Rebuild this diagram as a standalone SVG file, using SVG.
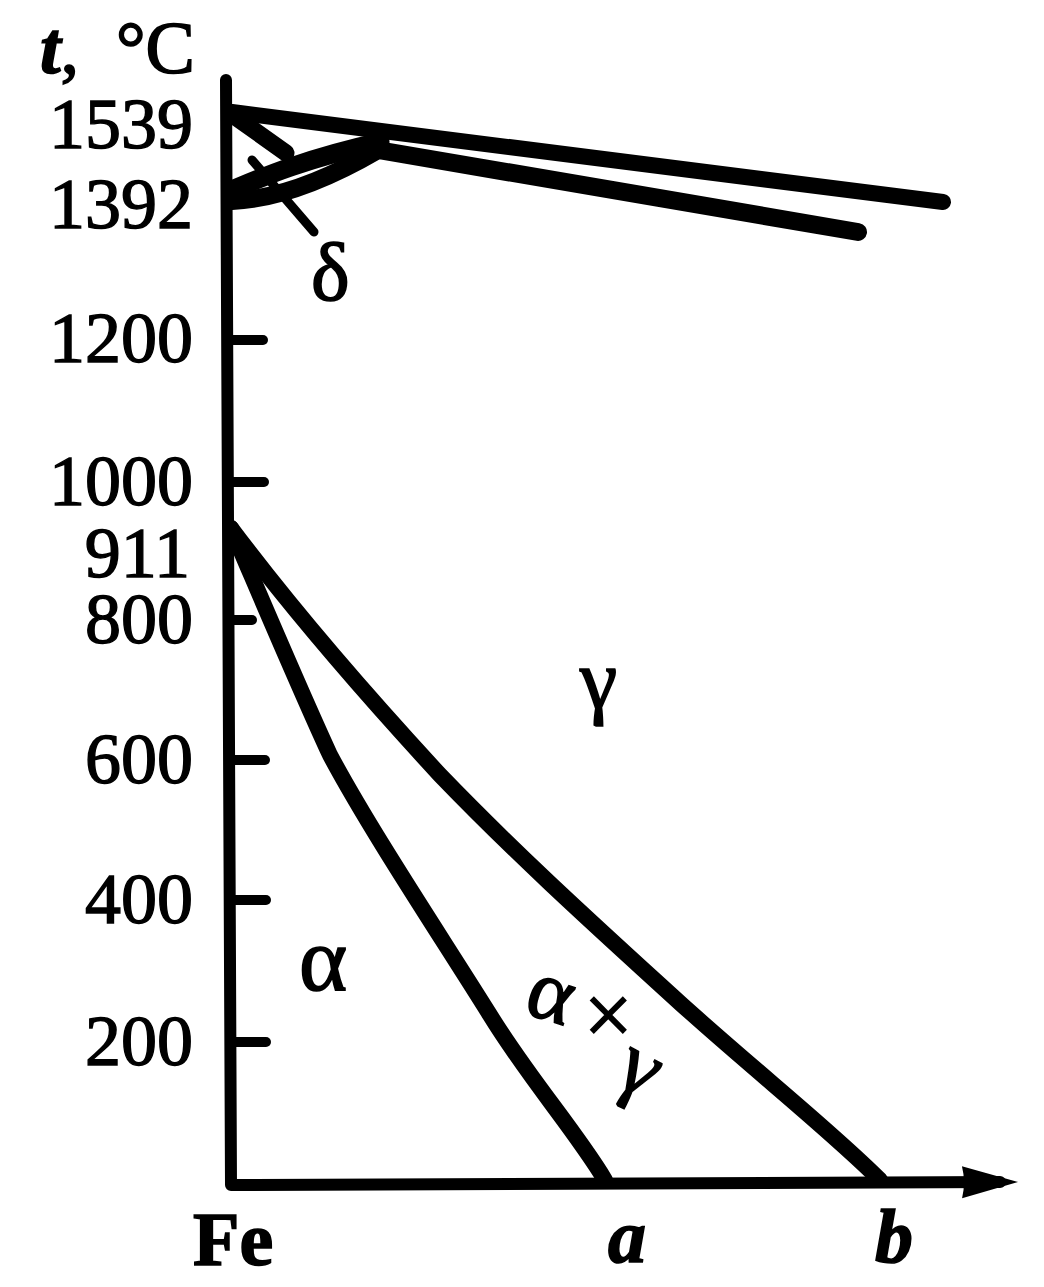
<svg xmlns="http://www.w3.org/2000/svg" width="1044" height="1287" viewBox="0 0 1044 1287">
<style>
.ln{fill:none;stroke:#000;stroke-linecap:round;stroke-linejoin:round}
.num{font-family:"Liberation Serif","Times New Roman",serif;font-size:72px;fill:#000;stroke:#000;stroke-width:1.4;text-anchor:end}
.lbl{font-family:"Liberation Serif","Times New Roman",serif;fill:#000;stroke:#000;stroke-width:1.6}
</style>
<defs>
<marker id="arr" viewBox="0 0 58 34" refX="40" refY="17" markerWidth="58" markerHeight="34" markerUnits="userSpaceOnUse" orient="auto">
<path d="M2,1 L58,17 L2,33 Q6,17 2,1 z" fill="#000"/>
</marker>
</defs>
<rect width="1044" height="1287" fill="#fff"/>
<g id="axes">
<path class="ln" d="M226,80 L231,1185 L1000,1182" stroke-width="12" stroke-linejoin="miter" marker-end="url(#arr)"/>
<g class="ln" stroke-width="10">
<path d="M228,340 H263"/>
<path d="M229,482 H264"/>
<path d="M229,620 H252"/>
<path d="M229,760 H265"/>
<path d="M230,900 H266"/>
<path d="M230,1042 H266"/>
</g>
</g>
<g id="connectors">
<path id="liquidus" class="ln" d="M232,112 L943,202" stroke-width="16"/>
<path id="solidus" class="ln" d="M232,201 C278,199 330,178 378,150 L858,232" stroke-width="18"/>
<path id="delta-solvus" class="ln" d="M232,190 C256,180 300,160 380,142" stroke-width="19"/>
<path id="delta-solidus" class="ln" d="M234,116 L286,153" stroke-width="17"/>
<path id="delta-pointer" class="ln" d="M252,160 L314,232" stroke-width="9"/>
<path id="line-a" class="ln" d="M231,528 C262,600 300,690 330,755 C370,830 440,935 490,1015 C530,1080 575,1130 605,1180" stroke-width="16"/>
<path id="line-b" class="ln" d="M231,528 C300,620 380,710 440,775 C520,858 600,930 680,1003 C760,1075 830,1130 880,1180" stroke-width="16"/>
</g>
<g id="labels">
<text class="lbl" font-size="74" y="73"><tspan x="40" font-style="italic" font-weight="bold">t</tspan><tspan>,</tspan><tspan x="116">°C</tspan></text>
<text class="num" x="193" y="148">1539</text>
<text class="num" x="193" y="228">1392</text>
<text class="num" x="193" y="362">1200</text>
<text class="num" x="193" y="505">1000</text>
<text class="num" x="190" y="577">911</text>
<text class="num" x="193" y="643">800</text>
<text class="num" x="193" y="783">600</text>
<text class="num" x="193" y="923">400</text>
<text class="num" x="193" y="1065">200</text>
<text class="lbl" font-size="82" x="311" y="300">δ</text>
<text class="lbl" font-size="84" x="580" y="708">γ</text>
<text class="lbl" font-size="92" x="299" y="990">α</text>
<text class="lbl" font-size="86" x="522 584 612" y="1012 1044 1082" rotate="18 0 28">α×γ</text>
<text class="lbl" font-size="76" font-weight="bold" x="193" y="1265">Fe</text>
<text class="lbl" font-size="76" font-style="italic" font-weight="bold" x="608" y="1262">a</text>
<text class="lbl" font-size="76" font-style="italic" font-weight="bold" x="875" y="1262">b</text>
</g>
</svg>
